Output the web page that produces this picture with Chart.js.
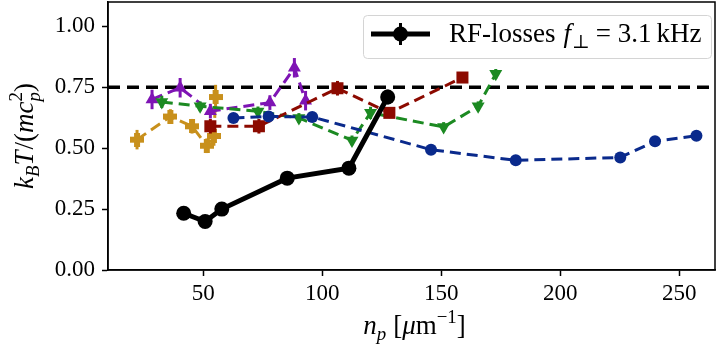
<!DOCTYPE html>
<html>
<head>
<meta charset="utf-8">
<script src="https://cdn.jsdelivr.net/npm/chart.js@4.4.0/dist/chart.umd.min.js"></script>
<style>
  html, body { margin: 0; padding: 0; background: #fff; }
</style>
</head>
<body>
<canvas id="chart" width="717" height="347"></canvas>
<script>
// --- data ---
var rfX = [41.8, 50.8, 57.8, 85.3, 111.2, 127.5];
var rfY = [0.233, 0.199, 0.25, 0.377, 0.418, 0.71];
var rfErr = [0.02, 0.02, 0.02, 0.02, 0.02, 0.03];

var blueX = [62.7, 77.5, 95.8, 145.7, 181.3, 225.2, 239.8, 257.2];
var blueY = [0.624, 0.63, 0.628, 0.494, 0.45, 0.462, 0.528, 0.551];
var blueErr = [0.015, 0.015, 0.015, 0.012, 0.012, 0.012, 0.012, 0.012];

var redX = [53.0, 73.4, 106.4, 128.2, 158.9];
var redY = [0.59, 0.59, 0.746, 0.645, 0.79];
var redErr = [0.03, 0.03, 0.03, 0.02, 0.02];

var greenX = [32.6, 48.7, 73.0, 90.2, 112.5, 120.3, 151.0, 165.5, 172.9];
var greenY = [0.69, 0.672, 0.651, 0.624, 0.532, 0.645, 0.587, 0.672, 0.805];
var greenErr = [0.025, 0.02, 0.02, 0.02, 0.02, 0.025, 0.02, 0.02, 0.02];

var purpleX = [28.5, 40.3, 53.0, 78.0, 88.3, 93.0];
var purpleY = [0.70, 0.748, 0.652, 0.687, 0.83, 0.695];
var purpleErr = [0.04, 0.04, 0.03, 0.03, 0.04, 0.04];

var goldX = [22.2, 36.2, 45.3, 51.5, 54.5, 55.2];
var goldY = [0.535, 0.63, 0.59, 0.51, 0.55, 0.71];
var goldErr = [0.04, 0.03, 0.03, 0.03, 0.04, 0.05];

var refLevel = 0.75;
var xTicks = [50, 100, 150, 200, 250];
var yTicks = [0, 0.25, 0.5, 0.75, 1.0];

var SERIF = '"Liberation Serif", "DejaVu Serif", serif';

function fnt(it, size) {
    return (it ? 'italic ' : '') + size + 'px ' + SERIF;
}

function pts(xs, ys) {
    return xs.map(function (x, i) { return { x: x, y: ys[i] }; });
}

// filled plus marker like matplotlib 'P'
function plusMarker(color, s) {
    var c = document.createElement('canvas');
    c.width = s; c.height = s;
    var g = c.getContext('2d');
    g.fillStyle = color;
    var w = Math.round(s * 0.4);
    g.fillRect((s - w) / 2, 0, w, s);
    g.fillRect(0, (s - w) / 2, s, w);
    return c;
}

// draw text made of italic / sub / sup pieces
function drawRich(ctx, parts, x, y, size, align) {
    var widths = [];
    var total = 0;
    parts.forEach(function (p) {
        var w;
        if (p.stack) {
            ctx.font = fnt(false, size * 0.7);
            var w1 = ctx.measureText(p.up).width;
            ctx.font = fnt(true, size * 0.7);
            var w2 = ctx.measureText(p.down).width;
            w = Math.max(w1, w2);
        } else {
            ctx.font = fnt(p.it, (p.sub || p.sup) ? size * 0.7 : size);
            w = ctx.measureText(p.t).width;
        }
        w += (p.gap || 0);
        widths.push(w);
        total += w;
    });
    var cx = align === 'center' ? x - total / 2 : x;
    ctx.textAlign = 'left';
    ctx.textBaseline = 'alphabetic';
    ctx.fillStyle = '#000';
    parts.forEach(function (p, i) {
        if (p.stack) {
            ctx.font = fnt(false, size * 0.7);
            ctx.fillText(p.up, cx, y - size * 0.42);
            ctx.font = fnt(true, size * 0.7);
            ctx.fillText(p.down, cx, y + size * 0.25);
        } else if (p.sub) {
            ctx.font = fnt(p.it, size * 0.7);
            ctx.fillText(p.t, cx, y + size * 0.22);
        } else if (p.sup) {
            ctx.font = fnt(p.it, size * 0.7);
            ctx.fillText(p.t, cx, y - size * 0.42);
        } else {
            ctx.font = fnt(p.it, size);
            ctx.fillText(p.t, cx, y);
        }
        cx += widths[i];
    });
    return total;
}

var errorBars = {
    id: 'errorBars',
    beforeDatasetDraw: function (chart, args) {
        var ds = chart.data.datasets[args.index];
        if (!ds.err) return;
        var ctx = chart.ctx;
        var ys = chart.scales.y;
        var meta = chart.getDatasetMeta(args.index);
        ctx.save();
        ctx.strokeStyle = ds.borderColor;
        ctx.lineWidth = ds.errWidth || 3;
        ctx.setLineDash([]);
        meta.data.forEach(function (el, i) {
            var v = ds.data[i].y;
            ctx.beginPath();
            ctx.moveTo(el.x, ys.getPixelForValue(v - ds.err[i]));
            ctx.lineTo(el.x, ys.getPixelForValue(v + ds.err[i]));
            ctx.stroke();
        });
        ctx.restore();
    }
};

var decor = {
    id: 'decor',
    beforeDatasetsDraw: function (chart) {
        var ctx = chart.ctx, a = chart.chartArea;
        var yp = chart.scales.y.getPixelForValue(refLevel);
        ctx.save();
        ctx.strokeStyle = '#000';
        ctx.lineWidth = 3.5;
        ctx.setLineDash([12, 7]);
        ctx.beginPath();
        ctx.moveTo(a.left, yp);
        ctx.lineTo(a.right, yp);
        ctx.stroke();
        ctx.restore();
    },
    afterDraw: function (chart) {
        var ctx = chart.ctx, a = chart.chartArea;
        ctx.save();
        // frame
        ctx.strokeStyle = '#000';
        ctx.lineWidth = 1.5;
        ctx.strokeRect(a.left, a.top, a.right - a.left, a.bottom - a.top);

        // axis titles
        drawRich(ctx, [
            { t: 'n', it: true },
            { t: 'p', it: true, sub: true, gap: 7 },
            { t: '[' },
            { t: '\u03bc', it: true },
            { t: 'm' },
            { t: '\u22121', sup: true },
            { t: ']' }
        ], (a.left + a.right) / 2 + 3, 334, 27, 'center');

        ctx.save();
        ctx.translate(33, (a.top + a.bottom) / 2);
        ctx.rotate(-Math.PI / 2);
        drawRich(ctx, [
            { t: 'k', it: true },
            { t: 'B', it: true, sub: true },
            { t: 'T', it: true, gap: 1 },
            { t: '/(' },
            { t: 'mc', it: true },
            { stack: true, up: '2', down: 'p' },
            { t: ')' }
        ], 0, 0, 27, 'center');
        ctx.restore();

        // legend
        var lx = a.right - 352, ly = a.top + 13, lw = 348, lh = 43;
        ctx.fillStyle = 'rgba(255,255,255,0.85)';
        ctx.strokeStyle = '#d4d4d4';
        ctx.lineWidth = 1;
        ctx.beginPath();
        ctx.roundRect(lx + 0.5, ly + 0.5, lw, lh, 4);
        ctx.fill();
        ctx.stroke();
        var my = ly + 19;
        ctx.strokeStyle = '#000';
        ctx.lineWidth = 5;
        ctx.beginPath();
        ctx.moveTo(lx + 8, my);
        ctx.lineTo(lx + 67, my);
        ctx.stroke();
        ctx.lineWidth = 3;
        ctx.beginPath();
        ctx.moveTo(lx + 37.5, my - 11);
        ctx.lineTo(lx + 37.5, my + 11);
        ctx.stroke();
        ctx.fillStyle = '#000';
        ctx.beginPath();
        ctx.arc(lx + 37.5, my, 7.5, 0, Math.PI * 2);
        ctx.fill();
        drawRich(ctx, [
            { t: 'RF-losses', gap: 8 },
            { t: 'f', it: true, gap: 1 },
            { t: '\u22a5', sub: true, gap: 6 },
            { t: '= 3.1', gap: 5 },
            { t: 'kHz' }
        ], lx + 86, my + 8, 27, 'left');
        ctx.restore();
    }
};

function series(label, xs, ys, errs, color, style, radius, order) {
    return {
        label: label,
        data: pts(xs, ys),
        err: errs,
        showLine: true,
        borderColor: color,
        backgroundColor: color,
        borderWidth: 3,
        borderDash: [11, 6],
        pointStyle: style,
        pointRadius: radius,
        pointBorderWidth: 0,
        pointHoverRadius: radius,
        order: order
    };
}

var ctx = document.getElementById('chart').getContext('2d');

var blue = series('blue', blueX, blueY, blueErr, '#0a2a8c', 'circle', 6, 2);
var red = series('red', redX, redY, redErr, '#8c0a00', 'rect', 8.5, 3);
var green = series('green', greenX, greenY, greenErr, '#1c8a22', 'triangle', 7.5, 4);
green.pointRotation = 180;
var purple = series('purple', purpleX, purpleY, purpleErr, '#7e14b4', 'triangle', 7.5, 5);
var gold = series('gold', goldX, goldY, goldErr, '#c8901c', plusMarker('#c8901c', 14), 7, 6);

var rf = {
    label: 'RF-losses',
    data: pts(rfX, rfY),
    err: rfErr,
    errWidth: 3,
    showLine: true,
    borderColor: '#000',
    backgroundColor: '#000',
    borderWidth: 5,
    pointStyle: 'circle',
    pointRadius: 7.5,
    pointHoverRadius: 7.5,
    pointBorderWidth: 0,
    order: 1
};

new Chart(ctx, {
    type: 'scatter',
    data: { datasets: [rf, blue, red, green, purple, gold] },
    options: {
        responsive: false,
        animation: false,
        devicePixelRatio: 1,
        layout: { autoPadding: false, padding: { left: 0, top: 2, right: 2, bottom: 0 } },
        plugins: {
            legend: { display: false },
            tooltip: { enabled: false }
        },
        scales: {
            x: {
                type: 'linear',
                min: 10,
                max: 265,
                afterBuildTicks: function (s) {
                    s.ticks = xTicks.map(function (v) { return { value: v }; });
                },
                afterFit: function (s) {
                    s.height = 77;
                    s.paddingLeft = 0;
                    s.paddingRight = 0;
                },
                ticks: {
                    color: '#000',
                    font: { family: SERIF, size: 23 },
                    padding: 4,
                    maxRotation: 0
                },
                grid: {
                    drawOnChartArea: false,
                    drawTicks: true,
                    tickLength: 6,
                    tickWidth: 1.5,
                    tickColor: '#000'
                },
                border: { display: true, color: '#000', width: 1.5 }
            },
            y: {
                type: 'linear',
                min: 0,
                max: 1.1,
                afterBuildTicks: function (s) {
                    s.ticks = yTicks.map(function (v) { return { value: v }; });
                },
                afterFit: function (s) {
                    s.width = 108;
                    s.paddingTop = 0;
                    s.paddingBottom = 0;
                },
                ticks: {
                    color: '#000',
                    font: { family: SERIF, size: 23 },
                    padding: 7,
                    callback: function (v) { return Number(v).toFixed(2); }
                },
                grid: {
                    drawOnChartArea: false,
                    drawTicks: true,
                    tickLength: 6,
                    tickWidth: 1.5,
                    tickColor: '#000'
                },
                border: { display: true, color: '#000', width: 1.5 }
            }
        }
    },
    plugins: [errorBars, decor]
});
</script>
</body>
</html>
